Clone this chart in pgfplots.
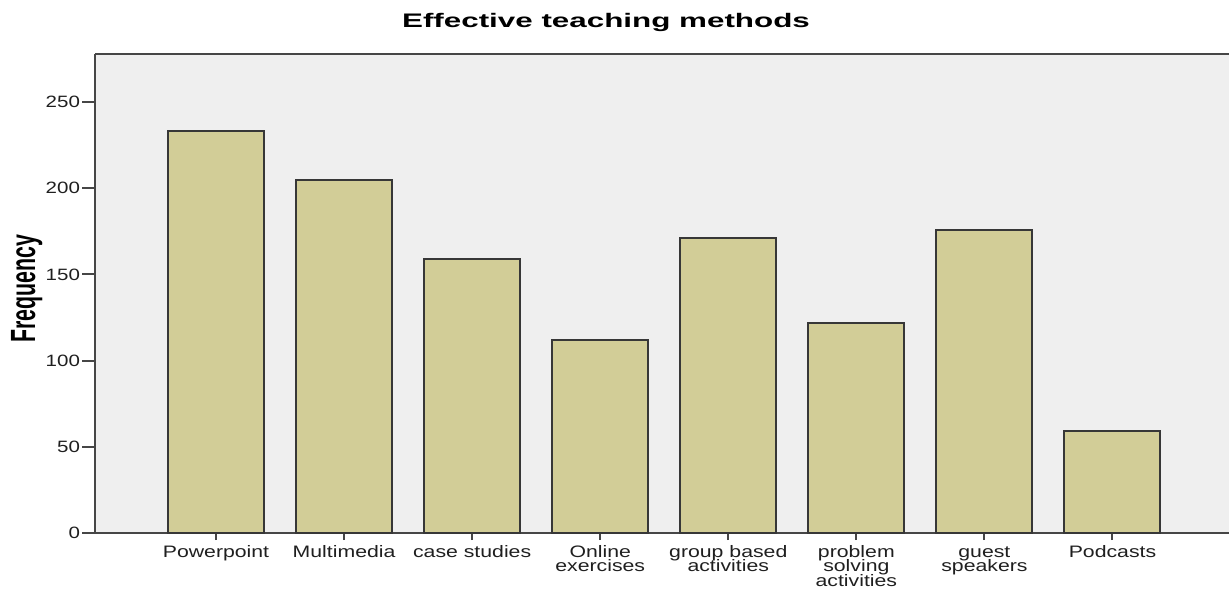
\documentclass[border=0pt]{standalone}
\usepackage{fontspec}
\setmainfont{Liberation Sans}
\usepackage{graphicx}
\usepackage{pgfplots}
\pgfplotsset{compat=1.18}
\definecolor{bggray}{RGB}{239,239,239}
\definecolor{barfill}{RGB}{210,205,151}
\definecolor{edge}{RGB}{55,55,55}
\definecolor{axcol}{RGB}{70,70,70}
\newcommand\xtickfont{\fontsize{8.3}{7.1}\selectfont\lineskiplimit=-10pt\relax}
\begin{document}
\begin{tikzpicture}
\path[use as bounding box] (0,0) rectangle (614.5pt,294.5pt);
\begin{axis}[
 at={(47.5pt,28pt)}, anchor=south west,
 scale only axis, width=567pt, height=239.5pt,
 xmin=-0.945, xmax=7.91, ymin=0, ymax=277.8,
 axis lines*=left,
 axis line style={axcol, line width=1pt},
 axis background/.style={fill=bggray},
 ybar, bar width=48pt,
 xtick={0,...,7},
 xticklabels={Powerpoint, Multimedia, case studies, {Online\\exercises}, {group based\\activities}, {problem\\solving\\activities}, {\vphantom{Pd}guest\\speakers}, Podcasts},
 ytick={0,50,100,150,200,250},
 tick style={axcol, line width=1pt},
 tick align=outside, major tick length=5pt,
 xtick style={/pgfplots/major tick length=3.5pt},
 ytick style={/pgfplots/major tick length=6.5pt},
 xticklabel style={font=\xtickfont, align=center, xscale=1.28, text=black!88, yshift=2.2pt},
 yticklabel style={font=\fontsize{8.2}{10}\selectfont, xscale=1.25, text=black!88, xshift=1.5pt},
 /pgf/number format/assume math mode=true,
 clip=false,
]
\addplot[fill=barfill, draw=edge, line width=1pt] coordinates {(0,233) (1,205) (2,159) (3,112) (4,171) (5,122) (6,176) (7,59)};
\draw[axcol, line width=1pt] (rel axis cs:0,1) -- (rel axis cs:1,1);
\end{axis}
\node[anchor=base, xscale=1.6, font=\fontsize{9.8}{12}\selectfont\bfseries] at (303pt,280.85pt) {Effective teaching methods};
\node[anchor=base, rotate=90, font=\fontsize{17.5}{20}\selectfont\bfseries] at (17.5pt,150pt) {\scalebox{0.61}[1]{Frequency}};
\end{tikzpicture}
\end{document}
